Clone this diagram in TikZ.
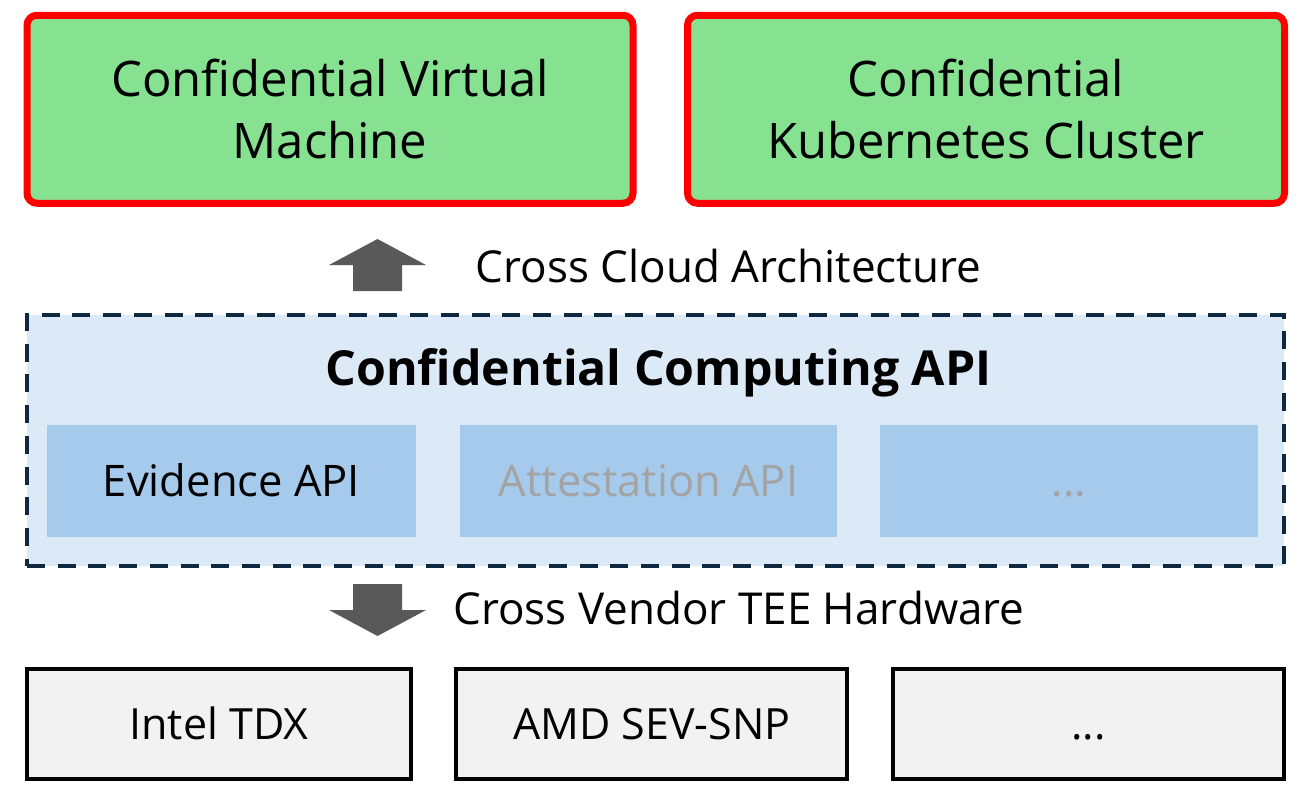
\documentclass[tikz,border=0pt]{standalone}
\usepackage{fontspec}
\setmainfont{Open Sans}
\usepackage{pgf,tikz}
\definecolor{cvmgreen}{RGB}{134,226,145}
\definecolor{apilight}{RGB}{220,234,247}
\definecolor{apiblue}{RGB}{166,202,236}
\definecolor{navy}{RGB}{14,40,65}
\definecolor{hwgray}{RGB}{242,242,242}
\definecolor{arrowgray}{RGB}{89,89,89}
\definecolor{fadegray}{RGB}{163,163,163}

\begin{document}
\begin{tikzpicture}[x=1pt,y=-1pt,
  cloudbox/.style={draw=red,line width=7pt,fill=cvmgreen,rounded corners=10pt,align=center,inner sep=0pt,minimum height=188pt,font=\fontsize{49}{62}\selectfont},
  apibox/.style={fill=apiblue,minimum height=112pt,inner sep=0pt,text height=31pt,text depth=0pt,font=\fontsize{43.5}{52}\selectfont},
  hwbox/.style={draw=black,line width=4pt,fill=hwgray,minimum height=110pt,inner sep=0pt,text height=30.7pt,text depth=0pt,font=\fontsize{43}{52}\selectfont},
  caption/.style={inner sep=0pt,text height=31.4pt,text depth=0pt,font=\fontsize{44}{52}\selectfont}]
\useasboundingbox (0,0) rectangle (1304,798);

\draw (330,109.25) node[cloudbox,minimum width=606pt] (cvm) {Confidential Virtual\\Machine};
\draw (986,109.25) node[cloudbox,minimum width=597pt] (ckc) {Confidential\\Kubernetes Cluster};

\fill[arrowgray] (353,291) -- (353,265) -- (329,265) -- (377.5,239) -- (426,265) -- (402,265) -- (402,291) -- cycle;
\draw (728.5,266.7) node[caption] (crosscloud) {Cross Cloud Architecture};

\draw (655.5,440.5) node[draw=navy,fill=apilight,line width=4pt,dash pattern=on 18pt off 12.7pt,minimum width=1257pt,minimum height=251pt] (ccapi) {};
\draw (658.5,368.3) node[inner sep=0pt,text height=34.5pt,text depth=0pt,font=\fontsize{48.3}{58}\selectfont\bfseries] (ccapititle) {Confidential Computing API};
\draw (231.5,481) node[apibox,minimum width=369pt] (evid) {Evidence API};
\draw (648.5,481) node[apibox,minimum width=377pt,text=fadegray] (attest) {Attestation API};
\draw (1069,481) node[apibox,minimum width=378pt,text=fadegray] (apimore) {...};

\fill[arrowgray] (353,584) -- (402,584) -- (402,610) -- (426,610) -- (377.5,636) -- (329,610) -- (353,610) -- cycle;
\draw (739,608.3) node[caption] (crossvendor) {Cross Vendor TEE Hardware};

\draw (219,723.8) node[hwbox,minimum width=384pt] (intel) {Intel TDX};
\draw (651.7,723.8) node[hwbox,minimum width=391pt] (amd) {AMD SEV-SNP};
\draw (1088.5,723.8) node[hwbox,minimum width=391pt] (hwmore) {...};

\end{tikzpicture}
\end{document}
